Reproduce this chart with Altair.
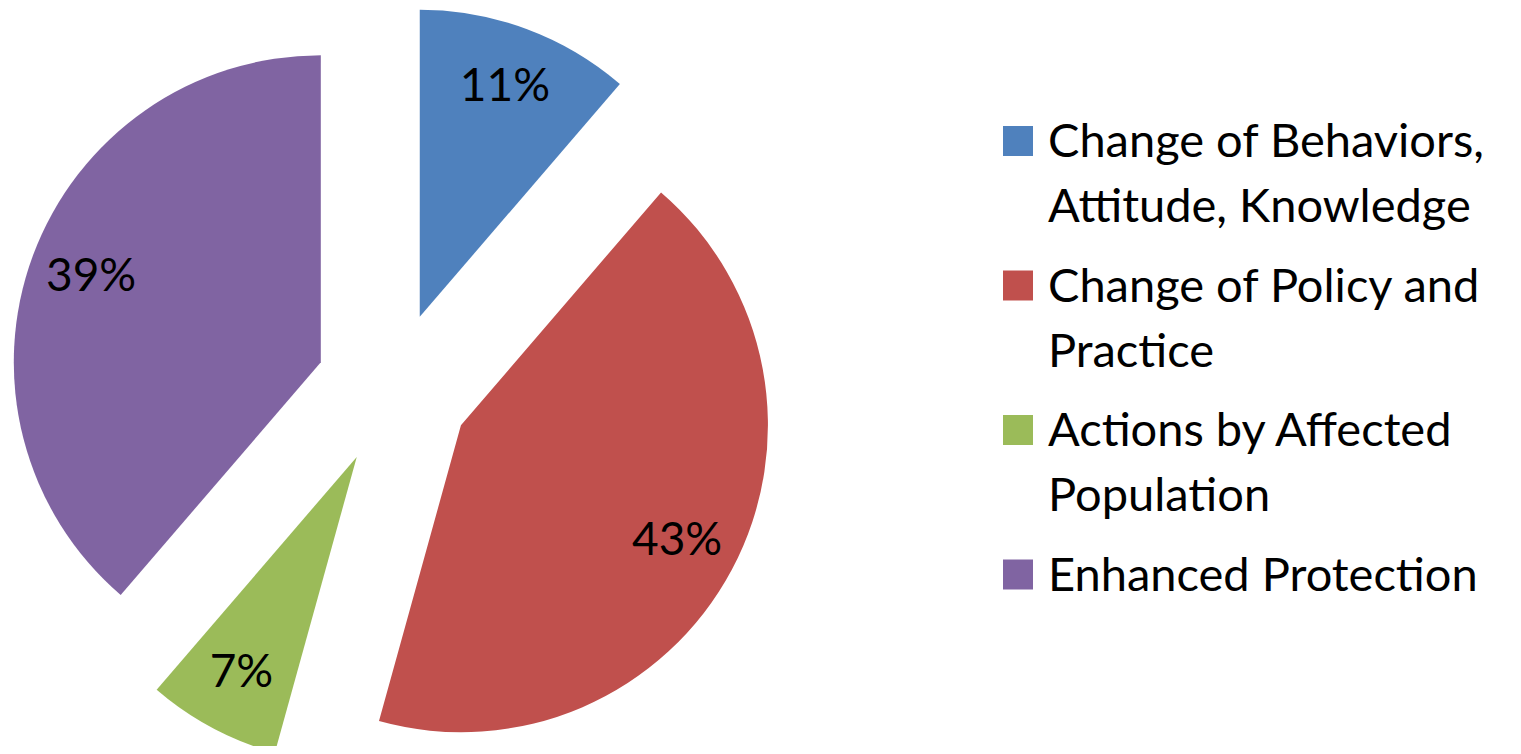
import altair as alt
import pandas as pd

categories = [
    "Change of Behaviors, Attitude, Knowledge",
    "Change of Policy and Practice",
    "Actions by Affected Population",
    "Enhanced Protection",
]
values = [11.3, 43.0, 7.0, 38.7]
pct_labels = ["11%", "43%", "7%", "39%"]
legend_lines = [
    ["Change of Behaviors,", "Attitude, Knowledge"],
    ["Change of Policy and", "Practice"],
    ["Actions by Affected", "Population"],
    ["Enhanced Protection"],
]
colors = ["#4F81BD", "#C0504D", "#9BBB59", "#8064A2"]

df = pd.DataFrame({
    "cat": categories,
    "value": values,
    "label": pct_labels,
    "lines": legend_lines,
    "idx": list(range(len(categories))),
})

CX, CY = 385, 381
EXPLODE = 77
R = 307
LABEL_R = 245
FONT = "Lato"
FS = 46
LFS = 47
LEG_X = 1010
LEG_Y0 = 133
LEG_STEP = 144.5

color = alt.Color("cat:N", scale=alt.Scale(domain=categories, range=colors), legend=None)

base = (
    alt.Chart(df)
    .transform_joinaggregate(total="sum(value)")
    .transform_window(cum="sum(value)", sort=[alt.SortField("idx")], frame=[None, 0])
    .transform_calculate(t1="2*PI*datum.cum/datum.total")
    .transform_calculate(t0="2*PI*(datum.cum-datum.value)/datum.total")
    .transform_calculate(mid="(datum.t0+datum.t1)/2")
    .transform_calculate(ax=f"{CX}+{EXPLODE}*sin(datum.mid)")
    .transform_calculate(ay=f"{CY}-{EXPLODE}*cos(datum.mid)")
    .transform_calculate(lx=f"datum.ax+{LABEL_R}*sin(datum.mid)")
    .transform_calculate(ly=f"datum.ay-{LABEL_R}*cos(datum.mid)")
    .transform_calculate(gy=f"{LEG_Y0}+datum.idx*{LEG_STEP}")
)

arcs = base.mark_arc(outerRadius=R, stroke=None).encode(
    theta=alt.Theta("t0:Q", scale=None),
    theta2="t1:Q",
    x=alt.X("ax:Q", scale=None),
    y=alt.Y("ay:Q", scale=None),
    color=color,
)

labels = base.mark_text(font=FONT, fontSize=FS, color="black", align="center", baseline="middle").encode(
    x=alt.X("lx:Q", scale=None),
    y=alt.Y("ly:Q", scale=None),
    text="label:N",
)

leg_sq = base.mark_square(size=900, opacity=1).encode(
    x=alt.value(LEG_X),
    y=alt.Y("gy:Q", scale=None),
    color=color,
)

leg_txt = base.transform_calculate(ty="datum.gy+16").mark_text(
    font=FONT, fontSize=LFS, color="black", align="left", baseline="alphabetic", lineHeight=65
).encode(
    x=alt.value(1040),
    y=alt.Y("ty:Q", scale=None),
    text="lines",
)

chart = (
    alt.layer(arcs, labels, leg_sq, leg_txt)
    .properties(width=1505, height=738, autosize="none", padding=0)
    .configure_view(stroke=None)
)

chart.save("out.html", embed_options={"renderer": "svg", "actions": False})
